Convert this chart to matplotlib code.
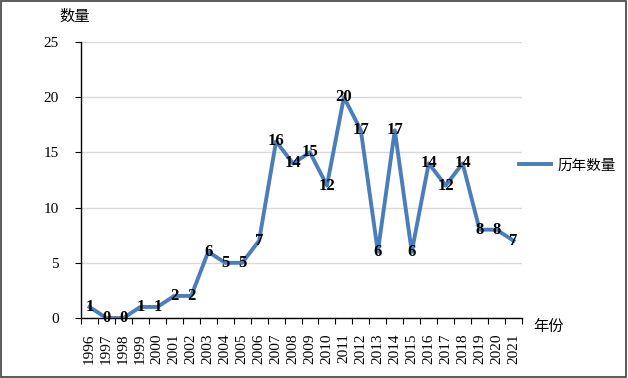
import matplotlib.pyplot as plt
import numpy as np
from matplotlib.patches import Rectangle

plt.rcParams['font.family'] = ['Liberation Serif', 'Noto Sans CJK SC']

years = [str(y) for y in range(1996, 2022)]
counts = [1, 0, 0, 1, 1, 2, 2, 6, 5, 5, 7, 16, 14, 15, 12, 20, 17, 6, 17, 6, 14, 12, 14, 8, 8, 7]

fig = plt.figure(figsize=(6.28, 3.78), dpi=100)
fig.patches.append(Rectangle((0.002, 0.003), 0.995, 0.994, transform=fig.transFigure,
                             fill=False, edgecolor='#404040', linewidth=1.2))
ax = fig.add_axes([81 / 628, 1 - 318 / 378, 441 / 628, 276 / 378])

x = np.arange(len(years))
line, = ax.plot(x, counts, color='#4a7ebb', linewidth=2.8, solid_joinstyle='round',
                label='历年数量', zorder=3)
for xi, v in zip(x, counts):
    ax.text(xi, v, str(v), ha='center', va='center', fontsize=12,
            fontweight='bold', color='black', zorder=4)

ax.set_xlim(-0.5, len(years) - 0.5)
ax.set_ylim(0, 25)
ax.set_yticks([0, 5, 10, 15, 20, 25])
ax.yaxis.grid(True, color='#d9d9d9', linewidth=1.0)
ax.set_axisbelow(True)

ax.set_xticks(x)
ax.set_xticklabels(years, rotation=90, fontsize=11)
ax.tick_params(axis='x', length=0, pad=11)
ax.set_xticks(np.arange(-0.5, len(years)), minor=True)
ax.tick_params(axis='x', which='minor', length=4, direction='out', width=0.8)
ax.tick_params(axis='y', length=4, width=0.8, labelsize=11, pad=12)

for s in ['top', 'right']:
    ax.spines[s].set_visible(False)
ax.spines['left'].set_linewidth(1.0)
ax.spines['bottom'].set_linewidth(1.0)

fig.text(75 / 628, 1 - 17 / 378, '数量', fontsize=11, ha='center', va='center')
fig.text(533 / 628, 1 - 327 / 378, '年份', fontsize=11, ha='left', va='center')

fig.legend(handles=[line], loc='center left', bbox_to_anchor=(506 / 628, 1 - 166 / 378),
           frameon=False, fontsize=10.5, handlelength=2.2, handletextpad=0.4)

fig.savefig('out.png', dpi=100)
